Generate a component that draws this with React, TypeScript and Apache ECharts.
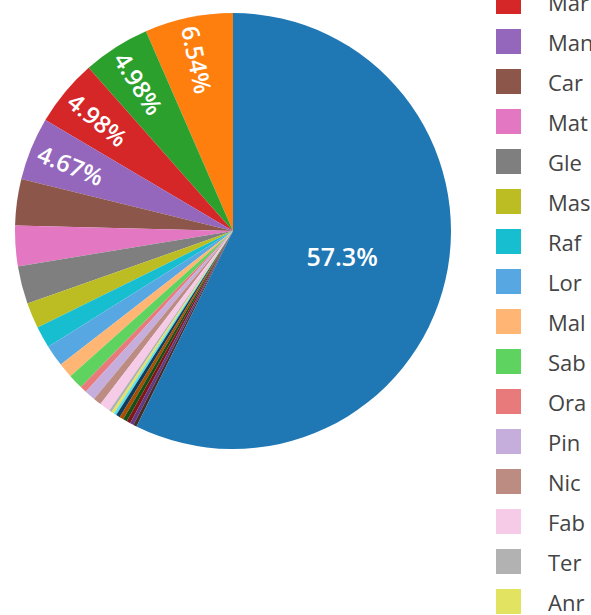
import React, { useEffect, useRef } from "react";
import * as echarts from "echarts";

// Slices in drawing order (counter-clockwise from 12 o'clock); the largest slice is last.
const sliceNames = [
  "Slice 2", "Slice 3", "Mar", "Man", "Car", "Mat", "Gle", "Mas", "Raf", "Lor",
  "Mal", "Sab", "Ora", "Pin", "Nic", "Fab", "Ter", "Anr", "Slice 20",
  "Slice 21", "Slice 22", "Slice 23", "Slice 24", "Slice 25", "Slice 26", "Slice 1",
];
const sliceValues = [
  6.54, 4.98, 4.98, 4.67, 3.43, 3.0, 2.8, 1.9, 1.6, 1.6,
  1.1, 1.1, 0.5, 0.8, 0.6, 0.8, 0.2, 0.2, 0.2,
  0.3, 0.3, 0.3, 0.28, 0.27, 0.25, 57.3,
];
const sliceColors = [
  "#ff7f0e", "#2ca02c", "#d62728", "#9467bd", "#8c564b", "#e377c2", "#7f7f7f", "#bcbd22", "#17becf", "#57a8e2",
  "#ffb574", "#5fd35f", "#e97a7b", "#c6aedc", "#bc8b82", "#f5cbe8", "#b2b2b2", "#e3e362", "#5edfed",
  "#103d5d", "#a74e00", "#165016", "#811616", "#613985", "#492d28", "#1f77b4",
];
// Slices whose percentage is written inside
const radialLabelNames = ["Slice 2", "Slice 3", "Mar", "Man"];
const centerLabelNames = ["Slice 1"];
// Legend entries visible in the picture
const legendNames = ["Mar", "Man", "Car", "Mat", "Gle", "Mas", "Raf", "Lor", "Mal", "Sab", "Ora", "Pin", "Nic", "Fab", "Ter", "Anr"];

export default function App() {
  const ref = useRef<HTMLDivElement>(null);
  useEffect(() => {
    if (!ref.current) return;
    const chart = echarts.init(ref.current, undefined, { renderer: "svg" });
    const total = sliceValues.reduce((a, b) => a + b, 0);
    const pct = (v: number) => Number(((v / total) * 100).toPrecision(3)) + "%";
    const font = "'Open Sans', 'Noto Sans', sans-serif";
    const cx = 233, cy = 231, R = 218;

    chart.setOption({
      animation: false,
      legend: {
        data: legendNames,
        orient: "vertical",
        left: 491,
        top: -16,
        height: 900,
        itemWidth: 25,
        itemHeight: 25,
        itemGap: 15,
        icon: "rect",
        selectedMode: false,
        textStyle: { fontFamily: font, fontSize: 22, color: "#444", padding: [0, 0, 0, 22] },
      },
      series: [
        {
          type: "pie",
          center: [cx, cy],
          radius: [0, R],
          startAngle: 90,
          clockwise: false,
          avoidLabelOverlap: false,
          emphasis: { disabled: true },
          labelLine: { show: false },
          itemStyle: { borderWidth: 0 },
          data: sliceNames.map((n, i) => ({
            name: n,
            value: sliceValues[i],
            itemStyle: { color: sliceColors[i] },
            label: {
              show: centerLabelNames.includes(n),
              position: "inside",
              formatter: () => pct(sliceValues[i]),
              color: "#fff",
              fontFamily: font,
              fontSize: 25,
              fontWeight: 600,
            },
          })),
        },
        {
          type: "pie",
          center: [cx, cy],
          radius: [R * 0.58, R],
          startAngle: 90,
          clockwise: false,
          silent: true,
          avoidLabelOverlap: false,
          emphasis: { disabled: true },
          labelLine: { show: false },
          itemStyle: { color: "rgba(0,0,0,0)", borderWidth: 0 },
          data: sliceNames.map((n, i) => ({
            name: n,
            value: sliceValues[i],
            itemStyle: { color: "rgba(0,0,0,0)" },
            label: {
              show: radialLabelNames.includes(n),
              position: "inside",
              rotate: "radial",
              formatter: () => pct(sliceValues[i]),
              color: "#fff",
              fontFamily: font,
              fontSize: 24,
              fontWeight: 600,
            },
          })),
        },
      ],
    });
    return () => chart.dispose();
  }, []);
  return (
    <div
      ref={ref}
      style={{ position: "fixed", left: 0, top: 0, width: 591, height: 615, background: "#fff" }}
    />
  );
}
